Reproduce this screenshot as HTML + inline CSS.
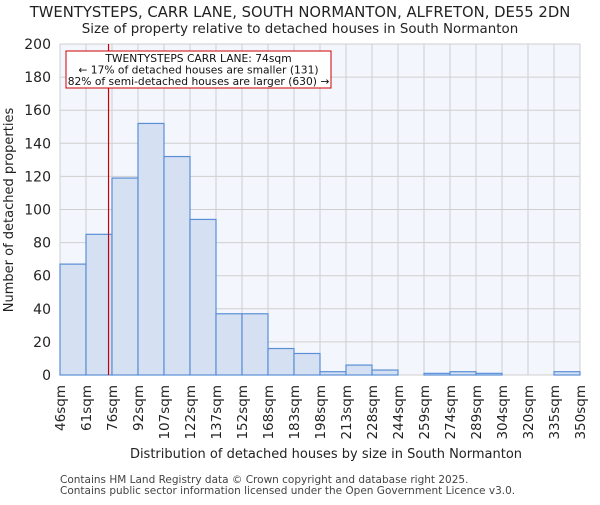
<!DOCTYPE html>
<html><head><meta charset="utf-8"><style>
body{margin:0;background:#fff;font-family:"Liberation Sans","DejaVu Sans",sans-serif}
svg text{font-family:"DejaVu Sans","Liberation Sans",sans-serif}
</style></head><body>
<svg id="c" width="600" height="500">
<text x="300" y="17" text-anchor="middle" font-size="14.8" fill="#222">TWENTYSTEPS, CARR LANE, SOUTH NORMANTON, ALFRETON, DE55 2DN</text>
<text x="300" y="33" text-anchor="middle" font-size="13.4" fill="#222">Size of property relative to detached houses in South Normanton</text>
<g id="plot"></g>
<text x="326" y="458" text-anchor="middle" font-size="13" fill="#222">Distribution of detached houses by size in South Normanton</text>
<text transform="translate(13,210) rotate(-90)" text-anchor="middle" font-size="13" fill="#222">Number of detached properties</text>
<text x="60" y="483" font-size="10.5" fill="#444">Contains HM Land Registry data © Crown copyright and database right 2025.</text>
<text x="60" y="494" font-size="10.5" fill="#444">Contains public sector information licensed under the Open Government Licence v3.0.</text>
</svg>
<script>
const binLabels=["46sqm","61sqm","76sqm","92sqm","107sqm","122sqm","137sqm","152sqm","168sqm","183sqm","198sqm","213sqm","228sqm","244sqm","259sqm","274sqm","289sqm","304sqm","320sqm","335sqm","350sqm"];
const counts=[67,85,119,152,132,94,37,37,16,13,2,6,3,0,1,2,1,0,0,2];
const yTicks=[0,20,40,60,80,100,120,140,160,180,200];
const binEdges=[46,61,76,92,107,122,137,152,168,183,198,213,228,244,259,274,289,304,320,335,350];
const markerValue=74;
const L=60,R=580,T=44,B=375,NS="http://www.w3.org/2000/svg";
const n=counts.length,bw=(R-L)/n;
const y=v=>B-(v/200)*(B-T);
const xi=i=>L+i*bw;
function xv(v){for(let i=0;i<binEdges.length-1;i++){if(v<=binEdges[i+1])return xi(i)+bw*(v-binEdges[i])/(binEdges[i+1]-binEdges[i]);}return R;}
const g=document.getElementById('plot');
function mk(t,a){const e=document.createElementNS(NS,t);for(const k in a)e.setAttribute(k,a[k]);g.appendChild(e);return e;}
let e=mk('rect',{x:L,y:T,width:R-L,height:B-T,fill:'#f3f6fd'});


for(let i=0;i<=n;i++){e=mk('line',{x1:xi(i),x2:xi(i),y1:T,y2:B,stroke:'#cfcfcf','stroke-width':1});

}
yTicks.forEach(t=>{e=mk('line',{x1:L,x2:R,y1:y(t),y2:y(t),stroke:'#cfcfcf','stroke-width':1});


e=mk('text',{x:L-9,y:y(t)+5,'text-anchor':'end','font-size':14,fill:'#222'});e.textContent=t;

});
counts.forEach((c,i)=>{e=mk('rect',{x:xi(i),y:y(c),width:bw,height:B-y(c),fill:'#d6e0f3',stroke:'#5a8fd6','stroke-width':1.2});

});
binLabels.forEach((l,i)=>{e=mk('text',{transform:`translate(${xi(i)+5},385) rotate(-90)`,'text-anchor':'end','font-size':13.5,fill:'#222'});e.textContent=l;

});
const mx=xv(markerValue);
e=mk('line',{x1:mx,x2:mx,y1:T,y2:B,stroke:'#cc0000','stroke-width':1.2});


e=mk('rect',{x:66,y:51,width:265,height:37,fill:'#fff',stroke:'#cc0000','stroke-width':1});


["TWENTYSTEPS CARR LANE: 74sqm","← 17% of detached houses are smaller (131)","82% of semi-detached houses are larger (630) →"].forEach((t,k)=>{
e=mk('text',{x:198.5,y:62+k*11.5,'text-anchor':'middle','font-size':10.7,fill:'#111'});e.textContent=t;

});
</script>
</body></html>
